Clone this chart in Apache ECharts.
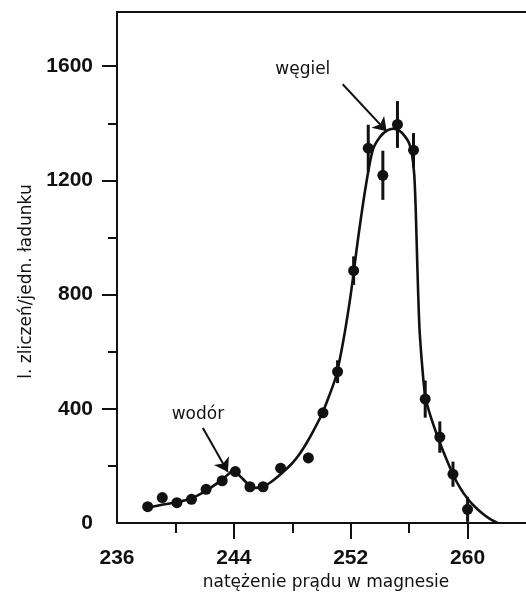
<!DOCTYPE html>
<html>
<head>
<meta charset="utf-8">
<script src="https://cdn.jsdelivr.net/npm/echarts@6/dist/echarts.min.js"></script>
<style>
html,body{margin:0;padding:0;background:#fff;}
#chart{width:526px;height:597px;}
</style>
</head>
<body>
<div id="chart"></div>
<script>
// measured points
const pointX = [238.1, 239.1, 240.1, 241.1, 242.1, 243.2, 244.1, 245.1, 246.0, 247.2, 249.1, 250.1, 251.1, 252.2, 253.2, 254.2, 255.2, 256.3, 257.1, 258.1, 259.0, 260.0];
const pointY = [57, 89, 71, 83, 118, 148, 180, 127, 127, 192, 228, 386, 530, 884, 1313, 1218, 1396, 1306, 434, 301, 171, 48];
const pointErr = [0, 0, 0, 0, 0, 0, 0, 0, 0, 0, 18, 0, 40, 50, 82, 86, 82, 60, 65, 55, 44, 44];

// fitted curve
const curveX = [238.1, 239, 240, 241, 242, 242.6, 243.2, 243.6, 243.95, 244.5, 245, 245.5, 246, 246.5, 247, 247.5, 248, 248.5, 249, 249.5, 250, 250.5, 251, 251.5, 252, 252.5, 253, 253.5, 254, 254.5, 254.9, 255.3, 255.7, 256, 256.2, 256.35, 256.45, 256.55, 256.7, 256.9, 257.1, 257.4, 258, 258.5, 259, 259.5, 260, 260.5, 261, 261.5, 262.05];
const curveY = [54, 63, 72, 84, 110, 130, 152, 170, 184, 160, 135, 123, 127, 142, 162, 185, 210, 242, 282, 328, 378, 442, 515, 640, 800, 995, 1170, 1305, 1352, 1375, 1381, 1375, 1355, 1330, 1290, 1220, 1100, 920, 690, 545, 445, 385, 295, 230, 170, 122, 85, 57, 34, 15, 0];

// axis ticks
const xLabels = [236, 244, 252, 260];
const xMajorTicks = [244, 252, 260];
const xMinorTicks = [240, 248, 256];
const yLabels = [0, 400, 800, 1200, 1600];
const yMajorTicks = [400, 800, 1200, 1600];
const yMinorTicks = [200, 600, 1000, 1400];

const xTitle = 'natężenie prądu w magnesie';
const yTitle = 'l. zliczeń/jedn. ładunku';
const notes = [
  {text: 'węgiel', at: [248.72, 1589], from: [251.45, 1537], to: [254.46, 1372]},
  {text: 'wodór', at: [241.54, 379], from: [241.88, 333], to: [243.59, 179]}
];

const X_MIN = 236, X_MAX = 264, Y_MIN = 0, Y_MAX = 1790;
const INK = '#111';
const nameFont = 'DejaVu Sans';
const tickFont = 'Liberation Sans';

const chart = echarts.init(document.getElementById('chart'), null, {renderer: 'canvas'});

const curveData = curveX.map((x, i) => [x, curveY[i]]);
const pointData = pointX.map((x, i) => [x, pointY[i]]);
const errData = [];
pointX.forEach((x, i) => { if (pointErr[i] > 0) errData.push([x, Math.max(0, pointY[i] - pointErr[i]), pointY[i] + pointErr[i]]); });

const plain = v => String(v);

const option = {
  backgroundColor: '#fff',
  animation: false,
  grid: {left: 117, top: 12, right: 0, bottom: 74, containLabel: false},
  xAxis: [
    {
      type: 'value', min: X_MIN, max: X_MAX, position: 'bottom',
      name: xTitle, nameLocation: 'middle', nameGap: 50,
      nameTextStyle: {fontFamily: nameFont, fontSize: 17, color: INK, padding: [0, 0, 0, 9]},
      axisLine: {show: true, onZero: false, lineStyle: {color: INK, width: 2}},
      axisTick: {show: true, inside: false, length: 16, customValues: xMajorTicks, lineStyle: {color: INK, width: 2}},
      axisLabel: {show: true, customValues: xLabels, formatter: plain, margin: 25, fontFamily: tickFont, fontWeight: 'bold', fontSize: 21, color: INK},
      splitLine: {show: false}
    },
    {
      type: 'value', min: X_MIN, max: X_MAX, position: 'bottom',
      axisLine: {show: false},
      axisTick: {show: true, inside: false, length: 10, customValues: xMinorTicks, lineStyle: {color: INK, width: 2}},
      axisLabel: {show: false},
      splitLine: {show: false}
    },
    {
      type: 'value', min: X_MIN, max: X_MAX, position: 'top',
      axisLine: {show: true, onZero: false, lineStyle: {color: INK, width: 2}},
      axisTick: {show: false}, axisLabel: {show: false}, splitLine: {show: false}
    }
  ],
  yAxis: [
    {
      type: 'value', min: Y_MIN, max: Y_MAX, position: 'left',
      name: yTitle, nameLocation: 'middle', nameGap: 82, nameRotate: 90,
      nameTextStyle: {fontFamily: nameFont, fontSize: 17, color: INK, padding: [0, 28, 0, 0]},
      axisLine: {show: true, onZero: false, lineStyle: {color: INK, width: 2}},
      axisTick: {show: true, inside: false, length: 15, customValues: yMajorTicks, lineStyle: {color: INK, width: 2}},
      axisLabel: {show: true, customValues: yLabels, formatter: plain, margin: 24, fontFamily: tickFont, fontWeight: 'bold', fontSize: 21, color: INK},
      splitLine: {show: false}
    },
    {
      type: 'value', min: Y_MIN, max: Y_MAX, position: 'left',
      axisLine: {show: false},
      axisTick: {show: true, inside: false, length: 9, customValues: yMinorTicks, lineStyle: {color: INK, width: 2}},
      axisLabel: {show: false},
      splitLine: {show: false}
    }
  ],
  series: [
    {
      type: 'line', name: 'fit', data: curveData, xAxisIndex: 0, yAxisIndex: 0,
      smooth: 0.25, showSymbol: false, symbol: 'none',
      lineStyle: {color: INK, width: 2.6}, clip: true, z: 2,
      markLine: {
        silent: true, symbol: ['none', 'arrow'], symbolSize: 13, animation: false,
        lineStyle: {color: INK, width: 2, type: 'solid', opacity: 1}, label: {show: false},
        itemStyle: {color: INK},
        data: notes.map(n => [{coord: n.from}, {coord: n.to}])
      },
      markPoint: {
        silent: true, symbol: 'circle', symbolSize: 1, itemStyle: {color: 'rgba(0,0,0,0)'},
        label: {show: true, position: 'inside', color: INK, fontFamily: nameFont, fontSize: 17, formatter: p => p.name},
        data: notes.map(n => ({name: n.text, coord: n.at}))
      }
    },
    {
      type: 'custom', name: 'err', data: errData, xAxisIndex: 0, yAxisIndex: 0, z: 3,
      renderItem: function (params, api) {
        const a = api.coord([api.value(0), api.value(1)]);
        const b = api.coord([api.value(0), api.value(2)]);
        return {type: 'line', shape: {x1: a[0], y1: a[1], x2: b[0], y2: b[1]}, style: {stroke: INK, lineWidth: 3}};
      }
    },
    {
      type: 'scatter', name: 'pts', data: pointData, xAxisIndex: 0, yAxisIndex: 0, z: 4,
      symbol: 'circle', symbolSize: 11, itemStyle: {color: INK, opacity: 1}
    }
  ]
};
chart.setOption(option);
</script>
</body>
</html>
